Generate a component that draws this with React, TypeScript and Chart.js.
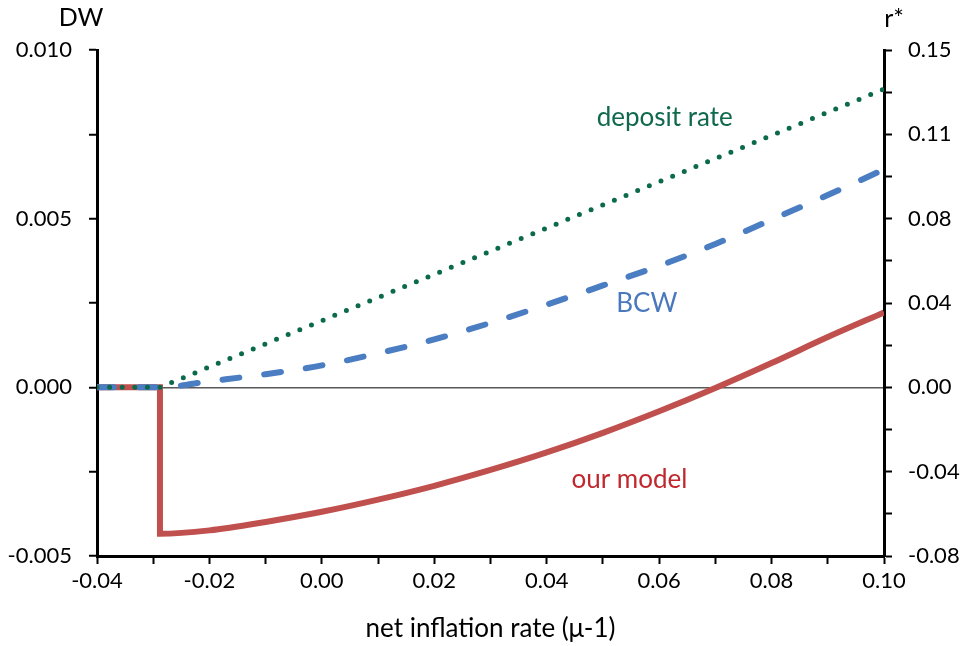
import React, { useEffect, useRef } from "react";
import { Chart, registerables } from "chart.js";

Chart.register(...registerables);

// Tick labels
const xTickLabels = ["-0.04", "-0.02", "0.00", "0.02", "0.04", "0.06", "0.08", "0.10"];
const leftTickLabels = ["-0.005", "0.000", "0.005", "0.010"];
const rightTickLabels = ["-0.08", "-0.04", "0.00", "0.04", "0.08", "0.11", "0.15"];

// Deposit rate (right axis, r*)
const depositX = [-0.04, -0.0288, 0.1];
const depositRate = [0, 0, 0.1326];

// BCW (left axis, DW)
const bcwX = [-0.04, -0.0288, -0.02, -0.01, 0.0, 0.01, 0.02, 0.03, 0.04, 0.05, 0.06, 0.07, 0.08, 0.09, 0.1];
const bcwDW = [0, 0, 0.00018, 0.00039, 0.00065, 0.00101, 0.00142, 0.00191, 0.00245, 0.00302, 0.0036, 0.00425, 0.00497, 0.0057, 0.00646];

// Our model (left axis, DW)
const modelX = [-0.04, -0.0288, -0.0288, -0.02, -0.01, 0.0, 0.01, 0.02, 0.03, 0.04, 0.05, 0.06, 0.07, 0.08, 0.09, 0.1];
const modelDW = [0, 0, -0.00434, -0.00424, -0.00399, -0.00369, -0.00333, -0.00292, -0.00245, -0.00193, -0.00135, -0.00071, -0.00002, 0.00072, 0.00149, 0.00222];

const X_MIN = -0.04, X_MAX = 0.1;
const L_MIN = -0.005, L_MAX = 0.01;
const R_MIN = -0.075, R_MAX = 0.15;

const FONT = "Lato";

function evenTicks(min: number, max: number, intervals: number) {
  const out: { value: number }[] = [];
  for (let i = 0; i <= intervals; i++) out.push({ value: min + ((max - min) * i) / intervals });
  return out;
}

function pts(xs: number[], ys: number[]) {
  return xs.map((x, i) => ({ x, y: ys[i] }));
}

const textPlugin = {
  id: "textLabels",
  afterDatasetsDraw(chart: any) {
    const { ctx, chartArea, scales } = chart;
    const x = scales.x, y = scales.y;
    ctx.save();
    ctx.textAlign = "center";
    ctx.textBaseline = "alphabetic";
    ctx.font = `25px ${FONT}`;
    ctx.fillStyle = "#000";
    ctx.fillText("DW", chartArea.left - 16, chartArea.top - 24);
    ctx.fillText("r*", chartArea.right + 10, chartArea.top - 23);
    ctx.font = `26px ${FONT}`;
    ctx.fillStyle = "#11694D";
    ctx.fillText("deposit rate", x.getPixelForValue(0.061), y.getPixelForValue(0.00774));
    ctx.fillStyle = "#4A78BC";
    ctx.fillText("BCW", x.getPixelForValue(0.0578), y.getPixelForValue(0.00222));
    ctx.fillStyle = "#C0282E";
    ctx.fillText("our model", x.getPixelForValue(0.0547), y.getPixelForValue(-0.00299));
    ctx.restore();
  },
};

export default function App() {
  const ref = useRef<HTMLCanvasElement | null>(null);
  useEffect(() => {
    if (!ref.current) return;
    const chart = new Chart(ref.current, {
      type: "line",
      data: {
        datasets: [
          {
            label: "deposit rate",
            data: pts(depositX, depositRate),
            yAxisID: "y1",
            borderColor: "#0B6A4C",
            borderWidth: 5,
            borderDash: [0, 12.6],
            borderCapStyle: "round",
            pointRadius: 0,
            fill: false,
          },
          {
            label: "BCW",
            data: pts(bcwX, bcwDW),
            yAxisID: "y",
            borderColor: "#4A7DC1",
            borderWidth: 6,
            borderDash: [17, 25],
            borderCapStyle: "round",
            cubicInterpolationMode: "monotone",
            pointRadius: 0,
            fill: false,
          },
          {
            label: "our model",
            data: pts(modelX, modelDW),
            yAxisID: "y",
            borderColor: "#C0504D",
            borderWidth: 6,
            cubicInterpolationMode: "monotone",
            pointRadius: 0,
            fill: false,
          },
        ],
      },
      options: {
        animation: false,
        responsive: false,
        layout: { padding: { top: 50, left: 0, right: 0, bottom: 0 } },
        plugins: { legend: { display: false }, tooltip: { enabled: false } },
        scales: {
          x: {
            type: "linear",
            min: X_MIN,
            max: X_MAX,
            afterBuildTicks: (s: any) => { s.ticks = evenTicks(X_MIN, X_MAX, (xTickLabels.length - 1) * 2); },
            afterFit: (s: any) => { s.height = 90; },
            ticks: {
              autoSkip: false,
              maxRotation: 0,
              padding: 4,
              color: "#000",
              font: { family: FONT, size: 22 },
              callback: (_v: any, i: number) => (i % 2 === 0 ? xTickLabels[i / 2] : ""),
            },
            grid: { drawOnChartArea: false, drawTicks: true, tickLength: 8, tickWidth: 2, tickColor: "#000", color: "#000" },
            border: { display: true, color: "#000", width: 3 },
            title: {
              display: true,
              text: "net inflation rate (μ-1)",
              color: "#000",
              font: { family: FONT, size: 26 },
              padding: { top: 0, bottom: 2 },
            },
          },
          y: {
            type: "linear",
            position: "left",
            min: L_MIN,
            max: L_MAX,
            afterBuildTicks: (s: any) => { s.ticks = evenTicks(L_MIN, L_MAX, (leftTickLabels.length - 1) * 2); },
            afterFit: (s: any) => { s.width = 97; },
            ticks: {
              autoSkip: false,
              padding: 17,
              color: "#000",
              font: { family: FONT, size: 22 },
              callback: (_v: any, i: number) => (i % 2 === 0 ? leftTickLabels[i / 2] : ""),
            },
            grid: {
              drawOnChartArea: true,
              drawTicks: true,
              tickLength: 8,
              tickWidth: 2,
              tickColor: "#000",
              lineWidth: 1.5,
              color: (c: any) => (c.tick && Math.abs(c.tick.value) < 1e-12 ? "#595959" : "rgba(0,0,0,0)"),
            },
            border: { display: true, color: "#000", width: 3 },
          },
          y1: {
            type: "linear",
            position: "right",
            min: R_MIN,
            max: R_MAX,
            afterBuildTicks: (s: any) => { s.ticks = evenTicks(R_MIN, R_MAX, (rightTickLabels.length - 1) * 2); },
            afterFit: (s: any) => { s.width = 77; },
            ticks: {
              autoSkip: false,
              padding: 16,
              color: "#000",
              font: { family: FONT, size: 22 },
              callback: (_v: any, i: number) => (i % 2 === 0 ? rightTickLabels[i / 2] : ""),
            },
            grid: { drawOnChartArea: false, drawTicks: true, tickLength: 8, tickWidth: 2, tickColor: "#000", color: "#000" },
            border: { display: true, color: "#000", width: 3 },
          },
        },
      },
      plugins: [textPlugin],
    } as any);
    return () => chart.destroy();
  }, []);
  return (
    <div style={{ position: "fixed", left: 0, top: 0, width: 961, height: 646, background: "#fff" }}>
      <canvas ref={ref} width={961} height={646} />
    </div>
  );
}
